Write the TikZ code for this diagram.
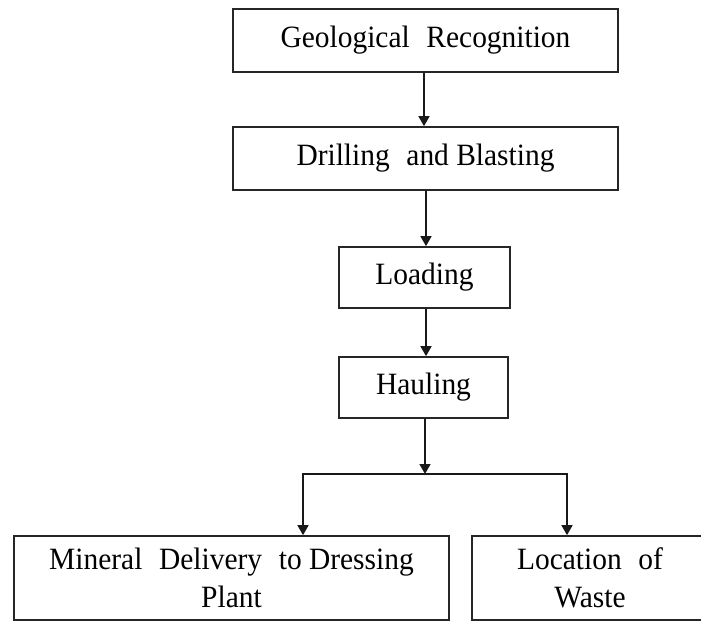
\documentclass[tikz,border=0pt]{standalone}
\usepackage{fontspec}
\setmainfont{Liberation Serif}[FakeStretch=0.95]
\usetikzlibrary{arrows.meta,calc}

\begin{document}
\begin{tikzpicture}[x=1pt,y=-1pt,
  box/.style={draw=black!85,line width=1.7pt,inner sep=0pt,align=center,
    font=\fontsize{31}{38}\selectfont},
  arr/.style={draw=black!90,line width=1.6pt,-{Triangle[width=11pt,length=10pt]}},
  link/.style={draw=black!90,line width=1.6pt}]
  \useasboundingbox (0,0) rectangle (701,621);

  % process chain
  \node[box,minimum width=385,minimum height=63] (geo) at (425.5,40.5)
    {Geological\hspace{0.3em} Recognition};
  \node[box,minimum width=385,minimum height=63] (drill) at (425.5,158.5)
    {Drilling\hspace{0.3em} and Blasting};
  \node[box,minimum width=171,minimum height=61] (load) at (424.5,277.5) {Loading};
  \node[box,minimum width=169,minimum height=61] (haul) at (423.5,387.5) {Hauling};

  % destinations
  \node[box,minimum width=435,minimum height=84] (mineral) at (231.5,578)
    {Mineral\hspace{0.3em} Delivery\hspace{0.3em} to Dressing\\Plant};
  \node[box,minimum width=236,minimum height=84] (waste) at (590,578)
    {Location\hspace{0.3em} of\\Waste};

  % connectors
  \draw[arr] (geo.south -| 424,0) -- (drill.north -| 424,0);
  \draw[arr] (drill.south -| 426,0) -- (load.north -| 426,0);
  \draw[arr] (load.south -| 426,0) -- (haul.north -| 426,0);

  \coordinate (split) at (425,474);
  \coordinate (bl) at (303,474);
  \coordinate (br) at (567,474);
  \draw[arr] (haul.south -| split) -- (split);
  \draw[link] ([xshift=-0.8pt]bl) -- ([xshift=0.8pt]br);
  \draw[arr] (bl) -- (bl |- mineral.north);
  \draw[arr] (br) -- (br |- waste.north);
\end{tikzpicture}
\end{document}
